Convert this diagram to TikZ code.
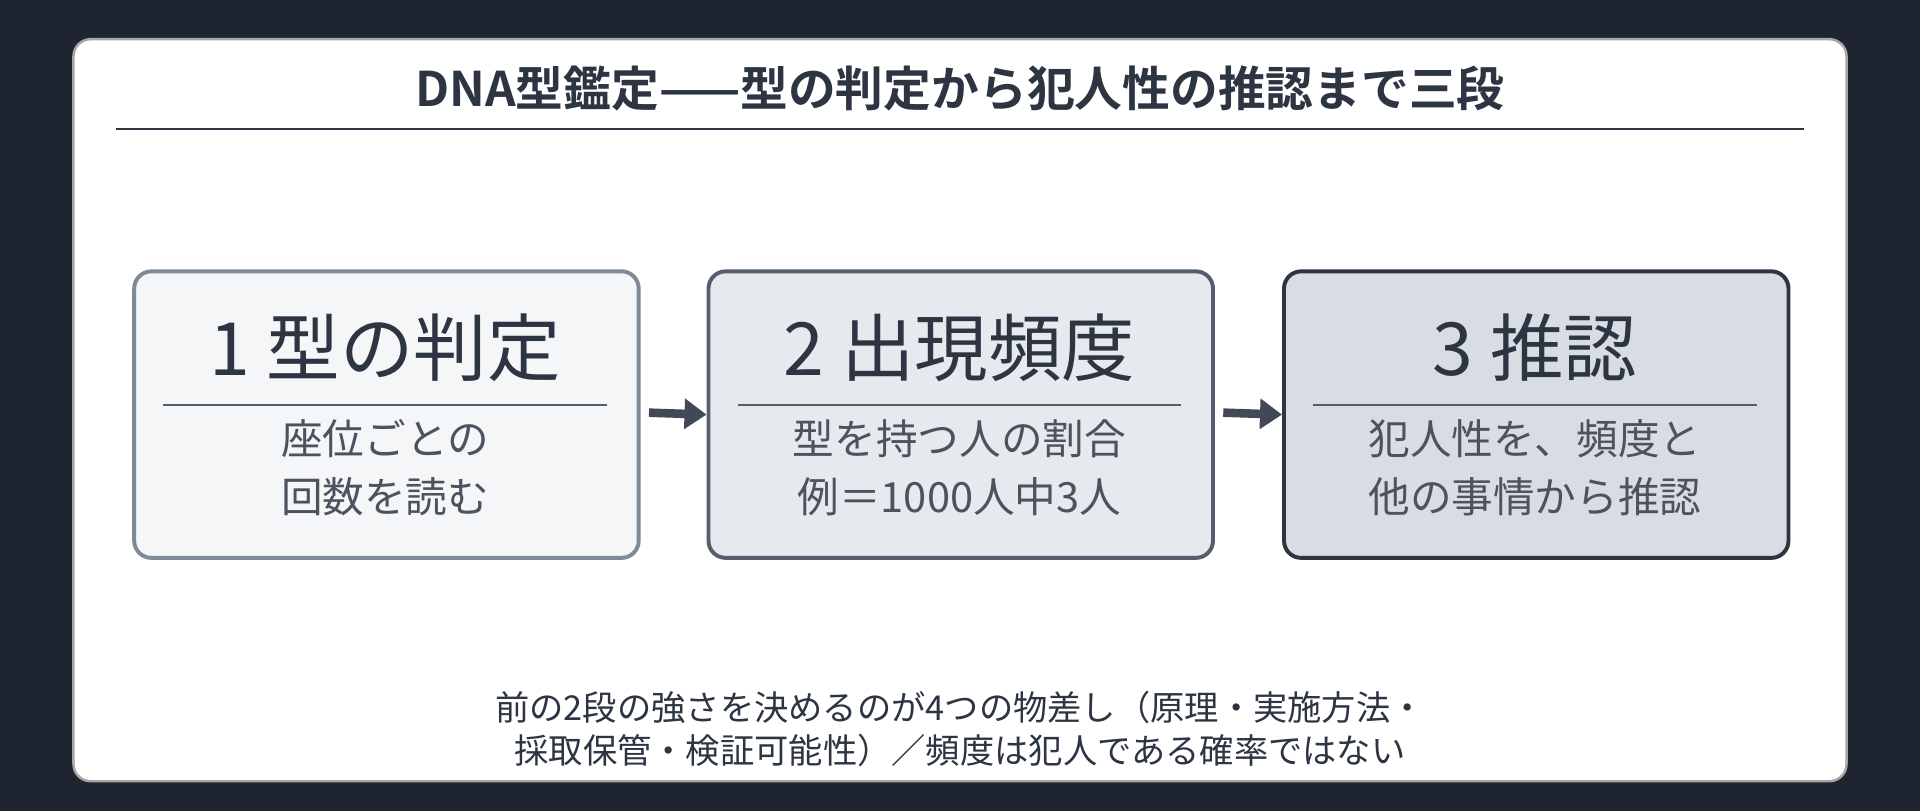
\documentclass[tikz,border=0pt]{standalone}
\usepackage{fontspec}
\setmainfont{Noto Sans CJK JP}
\newfontfamily\jpb{Noto Sans CJK JP}[BoldFont=* Bold]
\usetikzlibrary{arrows.meta}
\definecolor{bg}{HTML}{1E2530}
\definecolor{ink}{HTML}{2D3542}
\definecolor{fa}{HTML}{F4F6F8}\definecolor{fb}{HTML}{E6E9EE}\definecolor{fc}{HTML}{D8DCE3}
\definecolor{ba}{HTML}{7F8A99}\definecolor{bb}{HTML}{555E6C}\definecolor{bc}{HTML}{2D3542}
\begin{document}
\begin{tikzpicture}[x=0.5pt,y=-0.5pt,
 box/.style={draw,line width=1.6pt,rounded corners=7pt,minimum width=206pt,minimum height=117pt,anchor=north west},
 head/.style={font=\fontsize{30}{33}\selectfont,text=ink},
 body/.style={font=\fontsize{17}{23.5}\selectfont,text=ink!85,align=center},
 arr/.style={-{Triangle[length=9pt,width=12pt]},line width=3.5pt,draw=ink!90}]
\fill[bg] (0,0) rectangle (1568,662);
\useasboundingbox (0,0) rectangle (1568,662);
\draw[fill=white,draw=gray!70,line width=1pt,rounded corners=7pt] (60,32) rectangle (1508,638);
\node[font=\jpb\bfseries\fontsize{19.5}{22}\selectfont,text=ink] (t) at (784,72) {DNA型鑑定——型の判定から犯人性の推認まで三段};
\draw[ink,line width=0.8pt] (95,105) -- (1473,105);
\node[box,fill=fa,draw=ba] (b1) at (108,220) {};
\node[box,fill=fb,draw=bb] (b2) at (577,220) {};
\node[box,fill=fc,draw=bc] (b3) at (1047,220) {};
\foreach \b/\x/\h/\t in {b1/314.5/{1 型の判定}/{座位ごとの\\回数を読む},b2/783.5/{2 出現頻度}/{型を持つ人の割合\\例＝1000人中3人},b3/1253.5/{3 推認}/{犯人性を、頻度と\\他の事情から推認}}{
 \node[head] (\b h) at (\x,284) {\h};
 \draw[ink!80,line width=0.7pt] (\x-181,331) -- (\x+181,331);
 \node[body] (\b t) at (\x,382) {\t};
}
\coordinate (a1) at (530,337);
\coordinate (a2) at (999,337);
\draw[arr] (a1) -- (b2.west);
\draw[arr] (a2) -- (b3.west);
\node[font=\fontsize{14}{17.5}\selectfont,text=ink,align=center] (f) at (784,595) {前の2段の強さを決めるのが4つの物差し（原理・実施方法・\\採取保管・検証可能性）／頻度は犯人である確率ではない};
\end{tikzpicture}
\end{document}
